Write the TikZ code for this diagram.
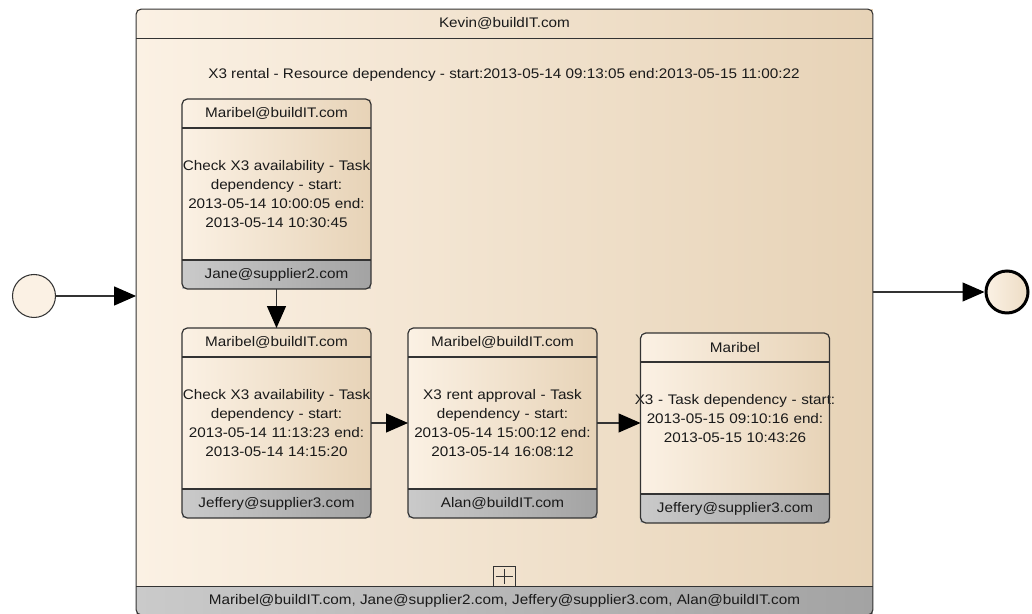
\documentclass[tikz,border=0pt]{standalone}
\usepackage{fontspec}
\setmainfont{Liberation Sans}[FakeStretch=1.1]
\usetikzlibrary{arrows.meta, positioning}

\definecolor{cream}{HTML}{FBF1E4}
\definecolor{sand}{HTML}{E7D3B7}
\definecolor{greylight}{HTML}{CACACA}
\definecolor{greydark}{HTML}{A3A3A3}
\definecolor{ink}{HTML}{1A1A1A}
\definecolor{rim}{HTML}{333333}

\begin{document}
\begin{tikzpicture}[
      x=0.02cm, y=-0.02cm,
      font=\fontsize{7.9}{10.8}\selectfont,
      text=ink,
      node distance=0pt,
      pool/.style={rectangle, left color=cream, right color=sand, minimum width=14.74cm, minimum height=12.12cm, inner sep=0pt, outer sep=0pt},
      poolhead/.style={pool, minimum height=0.58cm},
      band/.style={rectangle, left color=greylight, right color=greydark, minimum width=14.74cm, minimum height=0.56cm, inner sep=0pt, outer sep=0pt},
      taskbody/.style={rectangle, left color=cream, right color=sand, text width=3.78cm, minimum height=2.64cm, inner sep=0pt, outer sep=0pt, align=center},
      taskhead/.style={taskbody, minimum height=0.58cm},
      taskfoot/.style={rectangle, left color=greylight, right color=greydark, minimum width=3.78cm, minimum height=0.58cm, inner sep=0pt, outer sep=0pt},
      frame/.style={draw=rim, line width=0.7pt, rounded corners=3pt},
      divider/.style={draw=rim, line width=0.7pt},
      arrow/.style={draw=rim, line width=0.7pt, -{Triangle[length=0.44cm, width=0.38cm, color=black]}}
    ]
      \useasboundingbox (0,0) rectangle (1032,614);

      % pool
      \node (kevin) [pool] at (504.5,312) {};
      \node (kevin-head) [poolhead, below=0pt of kevin.north] {Kevin@buildIT.com};
      \node (team) [band, above=0pt of kevin.south] {Maribel@buildIT.com, Jane@supplier2.com, Jeffery@supplier3.com, Alan@buildIT.com};
      \draw [frame, line width=0.6pt] (kevin.north west) rectangle (kevin.south east);
      \draw [divider, line width=0.6pt] (kevin-head.south west) -- (kevin-head.south east);
      \draw [divider, line width=0.6pt] (team.north west) -- (team.north east);
      \node (rental) at (504,75) {X3 rental - Resource dependency - start:2013-05-14 09:13:05 end:2013-05-15 11:00:22};

      \node (expand) [draw=rim, line width=0.5pt, minimum width=0.44cm, minimum height=0.4cm, inner sep=0pt, above=0pt of team] {};
      \draw [rim, line width=0.5pt] ([yshift=-1.5pt]expand.north) -- ([yshift=1.5pt]expand.south);
      \draw [rim, line width=0.5pt] ([xshift=1.5pt]expand.west) -- ([xshift=-1.5pt]expand.east);

      % tasks
      \node (checkA) [taskbody] at (276.5,194) {\makebox[\hsize]{Check X3 availability - Task}\\dependency - start:\\2013-05-14 10:00:05 end:\\2013-05-14 10:30:45};
      \node (checkA-head) [taskhead, above=of checkA] {Maribel@buildIT.com};
      \node (checkA-foot) [taskfoot, below=of checkA] {Jane@supplier2.com};

      \node (checkB) [taskbody] at (276.5,423) {\makebox[\hsize]{Check X3 availability - Task}\\dependency - start:\\2013-05-14 11:13:23 end:\\2013-05-14 14:15:20};
      \node (checkB-head) [taskhead, above=of checkB] {Maribel@buildIT.com};
      \node (checkB-foot) [taskfoot, below=of checkB] {Jeffery@supplier3.com};

      \node (rentC) [taskbody] at (502.5,423) {X3 rent approval - Task\\dependency - start:\\2013-05-14 15:00:12 end:\\2013-05-14 16:08:12};
      \node (rentC-head) [taskhead, above=of rentC] {Maribel@buildIT.com};
      \node (rentC-foot) [taskfoot, below=of rentC] {Alan@buildIT.com};

      \node (x3D) [taskbody] at (735,428) {\makebox[\hsize]{X3 - Task dependency - start:}\\2013-05-15 09:10:16 end:\\2013-05-15 10:43:26\\ \mbox{}};
      \node (x3D-head) [taskhead, above=of x3D] {Maribel};
      \node (x3D-foot) [taskfoot, below=of x3D] {Jeffery@supplier3.com};

      \foreach \t in {checkA, checkB, rentC, x3D} {
        \draw [frame] (\t-head.north west) rectangle (\t-foot.south east);
        \draw [divider] (\t-head.south west) -- (\t-head.south east);
        \draw [divider] (\t-foot.north west) -- (\t-foot.north east);
      }

      % events
      \node (start) [circle, draw=rim, line width=0.6pt, fill=cream, minimum size=0.86cm] at (34,296) {};
      \node (finish) [circle, draw=black, line width=1.7pt, left color=cream, right color=sand!70!cream, minimum size=0.84cm] at (1007,292) {};

      \draw [arrow] (start) -- (start -| kevin.west);
      \draw [arrow] (checkA-foot) -- (checkB-head);
      \draw [arrow] (checkB) -- (rentC);
      \draw [arrow] (rentC.east) -- (rentC.east -| x3D-head.west);
      \draw [arrow] (kevin.east |- finish) -- (finish);
    \end{tikzpicture}
\end{document}
